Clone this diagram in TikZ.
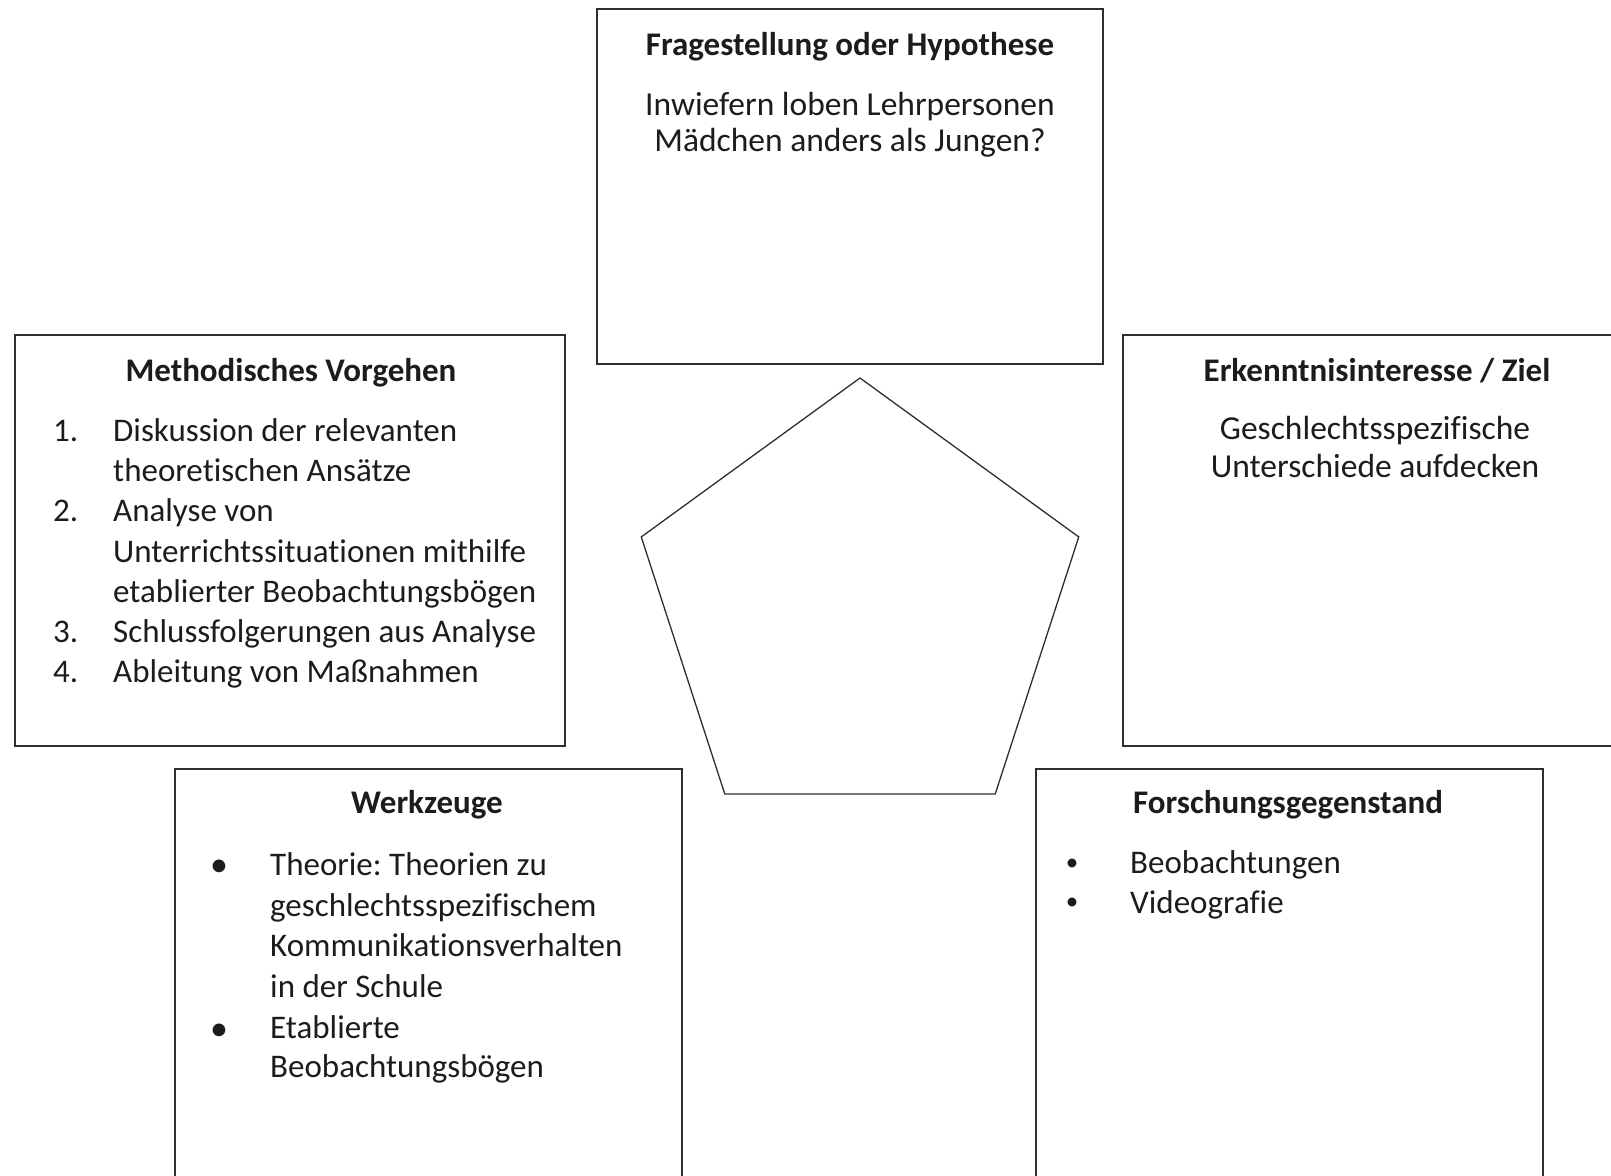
\documentclass[tikz,border=0pt]{standalone}
\usepackage{fontspec}
\setmainfont{Carlito}[Ligatures=NoCommon]
\usetikzlibrary{shapes.geometric}
\definecolor{linec}{HTML}{2E2E2E}
\definecolor{txtc}{HTML}{1C1C1C}
\frenchspacing
\begin{document}
\begin{tikzpicture}[x=1pt,y=-1pt,
  box/.style={draw=linec, line width=1.6pt, inner sep=0pt, outer sep=0pt, anchor=north west},
  ttl/.style={font=\fontsize{33}{40}\selectfont\bfseries, text=txtc, anchor=base, inner sep=0pt},
  ctxt/.style={font=\fontsize{33.5}{40}\selectfont, text=txtc, anchor=base, inner sep=0pt},
  ltxt/.style={font=\fontsize{33}{40}\selectfont, text=txtc, anchor=base west, inner sep=0pt},
  bigbul/.style={font=\fontsize{36}{36}\selectfont, text=txtc, anchor=center, inner sep=0pt},
  smallbul/.style={font=\fontsize{25}{25}\selectfont, text=txtc, anchor=center, inner sep=0pt},
  penta/.style={draw=linec, line width=1.3pt, regular polygon, regular polygon sides=5, minimum size=460pt, inner sep=0pt, outer sep=0pt}
]
\useasboundingbox (0,0) rectangle (1611,1175);
\clip (0,0) rectangle (1611,1175);

% boxes
\node[box, minimum width=506pt, minimum height=355pt] (q) at (597,9) {};
\node[box, minimum width=550pt, minimum height=411pt] (m) at (15,335) {};
\node[box, minimum width=506pt, minimum height=411pt] (e) at (1123,335) {};
\node[box, minimum width=507pt, minimum height=500pt] (w) at (175,769) {};
\node[box, minimum width=507pt, minimum height=500pt] (f) at (1036,769) {};

% pentagon
\node[penta] (p) at (860,608) {};

% top box
\node[ttl] (qt) at (850,55) {Fragestellung oder Hypothese};
\node[ctxt] (q1) at (850,115) {Inwiefern loben Lehrpersonen};
\node[ctxt] (q2) at (850,151) {Mädchen anders als Jungen?};

% Methodisches Vorgehen
\node[ttl] (mt) at (291,381) {Methodisches Vorgehen};
\node[ltxt] (mn1) at (53,441) {1.};
\node[ltxt] (m1a) at (113,441) {Diskussion der relevanten};
\node[ltxt] (m1b) at (113,481) {theoretischen Ansätze};
\node[ltxt] (mn2) at (53,521) {2.};
\node[ltxt] (m2a) at (113,521) {Analyse von};
\node[ltxt] (m2b) at (113,562) {Unterrichtssituationen mithilfe};
\node[ltxt] (m2c) at (113,602) {etablierter Beobachtungsbögen};
\node[ltxt] (mn3) at (53,642) {3.};
\node[ltxt] (m3) at (113,642) {Schlussfolgerungen aus Analyse};
\node[ltxt] (mn4) at (53,682) {4.};
\node[ltxt] (m4) at (113,682) {Ableitung von Maßnahmen};

% Erkenntnisinteresse
\node[ttl] (et) at (1377,381) {Erkenntnisinteresse / Ziel};
\node[ctxt] (e1) at (1375,439) {Geschlechtsspezifische};
\node[ctxt] (e2) at (1375,477) {Unterschiede aufdecken};

% Werkzeuge
\node[ttl] (wt) at (427,813) {Werkzeuge};
\node[bigbul] (wb1) at (219,868) {•};
\node[ltxt] (w1a) at (270,875) {Theorie: Theorien zu};
\node[ltxt] (w1b) at (270,916) {geschlechtsspezifischem};
\node[ltxt] (w1c) at (270,956) {Kommunikationsverhalten};
\node[ltxt] (w1d) at (270,997) {in der Schule};
\node[bigbul] (wb2) at (219,1032) {•};
\node[ltxt] (w2a) at (270,1038) {Etablierte};
\node[ltxt] (w2b) at (270,1077) {Beobachtungsbögen};

% Forschungsgegenstand
\node[ttl] (ft) at (1288,813) {Forschungsgegenstand};
\node[smallbul] (fb1) at (1072,865) {•};
\node[ltxt] (f1) at (1130,873) {Beobachtungen};
\node[smallbul] (fb2) at (1072,904) {•};
\node[ltxt] (f2) at (1130,913) {Videografie};
\end{tikzpicture}
\end{document}
